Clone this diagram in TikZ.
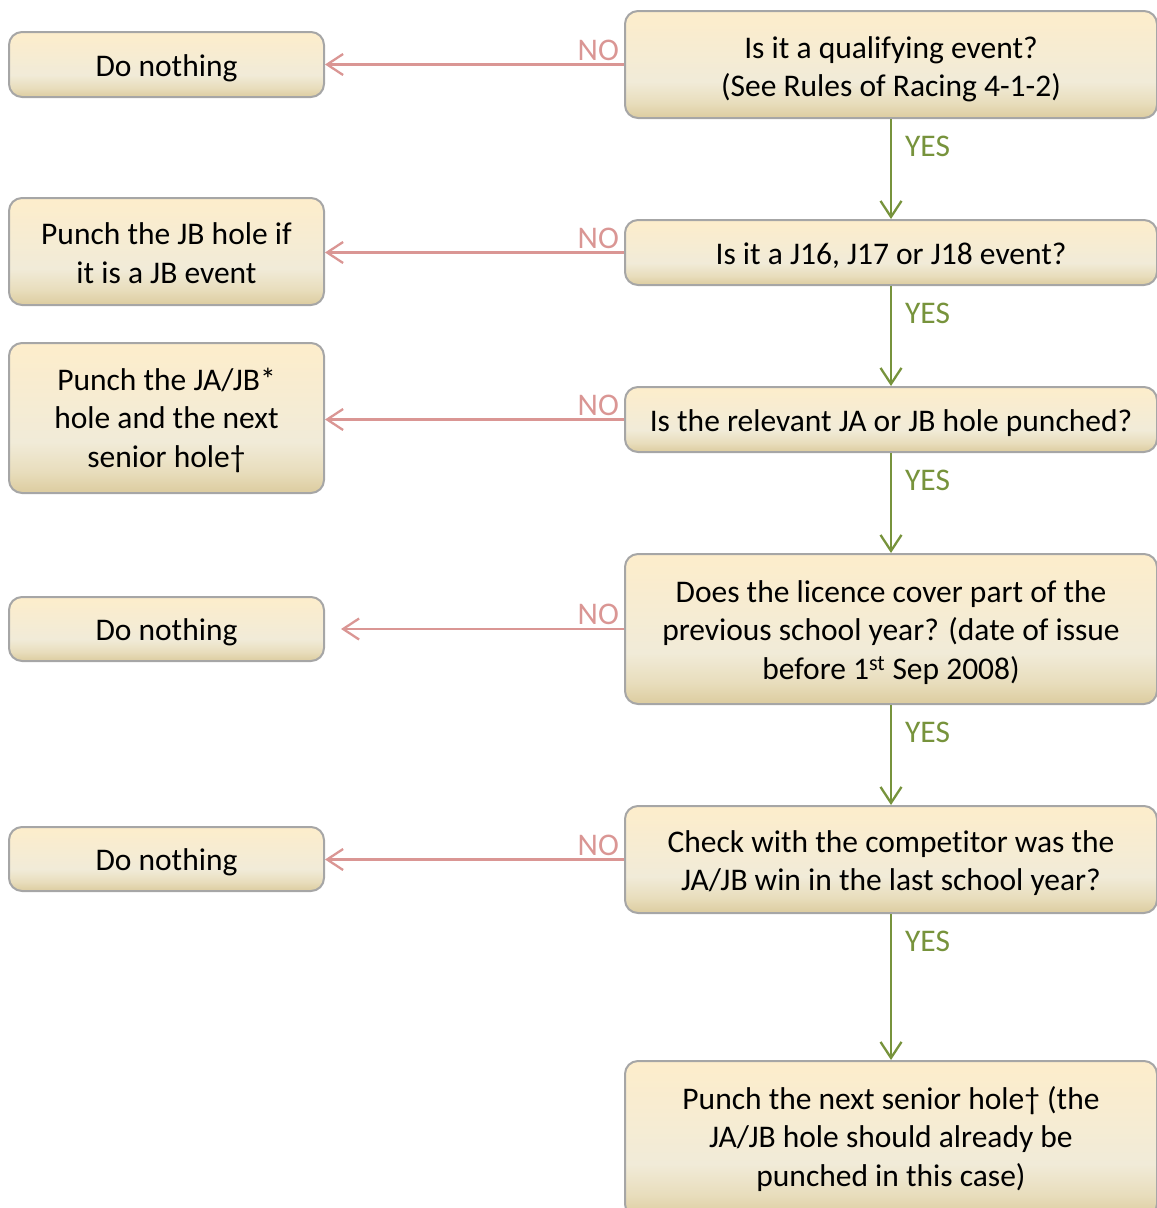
\documentclass[tikz,border=0pt]{standalone}
\usepackage{fontspec}
\setmainfont{Carlito}[Ligatures=NoCommon]
\usetikzlibrary{arrows.meta}
\definecolor{ctop}{HTML}{FDEDCB}
\definecolor{cmid}{HTML}{F1EBD8}
\definecolor{cmidb}{HTML}{E8DDBC}
\definecolor{cbot}{HTML}{DCCC9F}
\definecolor{cborder}{HTML}{A6A6A6}
\definecolor{nocol}{HTML}{DA9694}
\definecolor{yescol}{HTML}{77933C}
\pgfdeclareverticalshading{boxshade}{100bp}{color(0bp)=(cbot); color(25bp)=(cbot); color(32bp)=(cmidb); color(42bp)=(cmid); color(75bp)=(ctop); color(100bp)=(ctop)}
\newcommand{\bodyfont}{\fontsize{31.5}{38.5}\selectfont}
\newcommand{\lift}[1]{\rule{0pt}{#1}}
\tikzset{
  box/.style={draw=cborder, line width=2pt, rounded corners=13pt, shade, shading=boxshade,
    align=center, font=\bodyfont, inner sep=0pt, text=black},
  rbox/.style={box, minimum width=532pt},
  lbox/.style={box, minimum width=315pt},
  noarr/.style={draw=nocol, line width=2.3pt, -{Straight Barb[length=16pt,width=21pt]}},
  yesarr/.style={draw=yescol, line width=2.3pt, -{Straight Barb[length=16pt,width=21pt]}},
  nolab/.style={text=nocol, font=\bodyfont, inner sep=0pt, anchor=south east, xshift=-4pt, yshift=3pt},
  yeslab/.style={text=yescol, font=\bodyfont, inner sep=0pt, anchor=north west, xshift=13pt, yshift=-16pt}
}
\begin{document}
\begin{tikzpicture}[x=1pt,y=-1pt]
\useasboundingbox (0,0) rectangle (1157,1208);
% right column
\node[rbox, minimum height=107pt] (r1) at (891,64.5) {\lift{31pt}Is it a qualifying event?\\(See Rules of Racing 4-1-2)};
\node[rbox, minimum height=65pt] (r2) at (891,252.5) {\lift{29pt}Is it a J16, J17 or J18 event?};
\node[rbox, minimum height=65pt] (r3) at (891,419.5) {\lift{29pt}Is the relevant JA or JB hole punched?};
\node[rbox, minimum height=150pt] (r4) at (891,629) {\lift{29pt}Does the licence cover part of the\\previous school year? (date of issue\\before 1\textsuperscript{st} Sep 2008)};
\node[rbox, minimum height=107pt] (r5) at (891,859.5) {\lift{29pt}Check with the competitor was the\\JA/JB win in the last school year?};
\node[rbox, minimum height=156pt] (r6) at (891,1139) {Punch the next senior hole† (the\\JA/JB hole should already be\\punched in this case)};
% left column
\node[lbox, minimum height=65pt] (l1) at (166.5,64.5) {\lift{29pt}Do nothing};
\node[lbox, minimum height=107pt] (l2) at (166.5,251.5) {\lift{25pt}Punch the JB hole if\\it is a JB event};
\node[lbox, minimum height=150pt] (l3) at (166.5,418) {\lift{27pt}Punch the JA/JB*\\hole and the next\\senior hole†};
\node[lbox, minimum height=64pt] (l4) at (166.5,629) {\lift{29pt}Do nothing};
\node[lbox, minimum height=64pt] (l5) at (166.5,859) {\lift{29pt}Do nothing};
% NO arrows
\draw[noarr] (r1.west) -- node[nolab, pos=0] {NO} (r1.west -| l1.east);
\draw[noarr] (r2.west) -- node[nolab, pos=0] {NO} (r2.west -| l2.east);
\draw[noarr] (r3.west) -- node[nolab, pos=0] {NO} (r3.west -| l3.east);
\draw[noarr] (r4.west) -- node[nolab, pos=0] {NO} ([xshift=16pt]r4.west -| l4.east);
\draw[noarr] (r5.west) -- node[nolab, pos=0] {NO} (r5.west -| l5.east);
% YES arrows
\draw[yesarr] (r1.south) -- node[yeslab, pos=0] {YES} (r2.north);
\draw[yesarr] (r2.south) -- node[yeslab, pos=0] {YES} (r3.north);
\draw[yesarr] (r3.south) -- node[yeslab, pos=0] {YES} (r4.north);
\draw[yesarr] (r4.south) -- node[yeslab, pos=0] {YES} (r5.north);
\draw[yesarr] (r5.south) -- node[yeslab, pos=0] {YES} (r6.north);
\end{tikzpicture}
\end{document}
